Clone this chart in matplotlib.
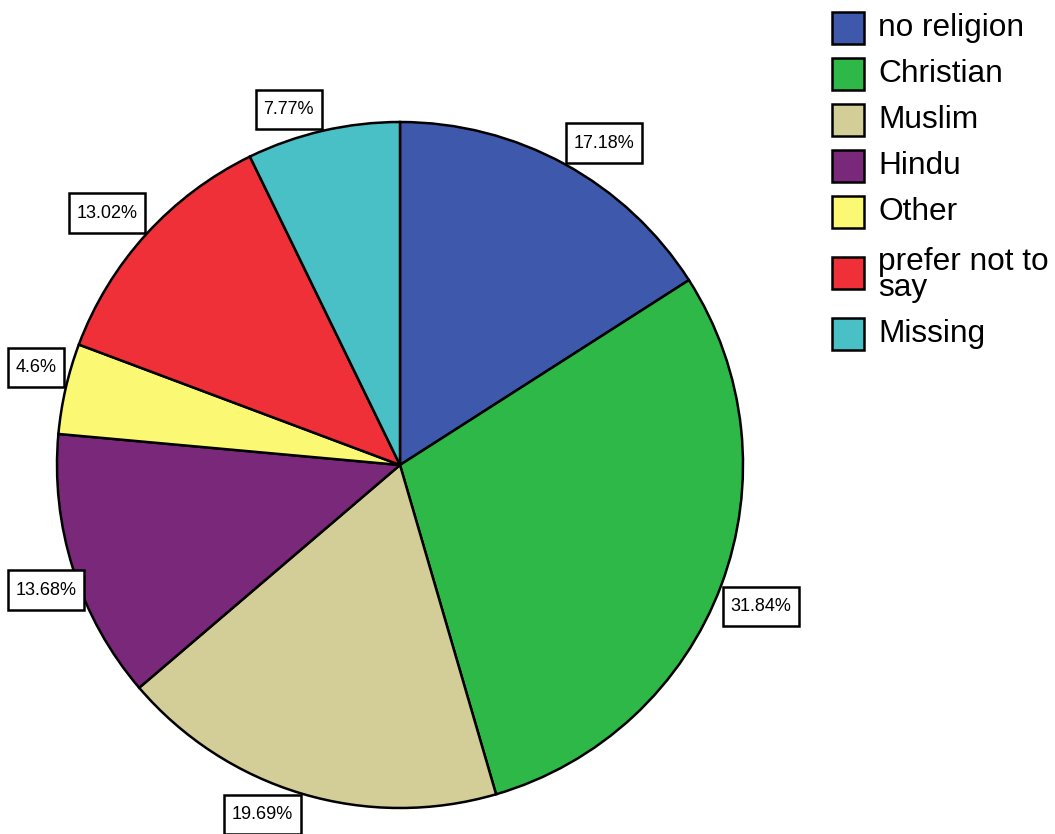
import numpy as np
import matplotlib
matplotlib.use("Agg")
import matplotlib.pyplot as plt
from matplotlib.path import Path
from matplotlib.patches import Rectangle

plt.rcParams['font.family'] = ['Liberation Sans', 'DejaVu Sans']

categories = ['no religion', 'Christian', 'Muslim', 'Hindu', 'Other',
              'prefer not to\nsay', 'Missing']
values = [17.18, 31.84, 19.69, 13.68, 4.6, 13.02, 7.77]
labels = ['17.18%', '31.84%', '19.69%', '13.68%', '4.6%', '13.02%', '7.77%']
colors = ['#3E58AC', '#2EB848', '#D3CE97', '#7A287A', '#FBF873', '#EF3038', '#48C0C5']

fig = plt.figure(figsize=(10.55, 8.34), dpi=100)
W, H = 1055, 834
cx, cy, r = 400, 465, 343
ax = fig.add_axes([(cx - r) / W, (H - cy - r) / H, 2 * r / W, 2 * r / H])

wedges, _ = ax.pie(values, colors=colors, startangle=90, counterclock=False,
                   wedgeprops=dict(edgecolor='black', linewidth=1.8))
ax.set_xlim(-1, 1)
ax.set_ylim(-1, 1)
ax.set_aspect('equal')

# box with a bit more room above/below than at the sides
PADX, PADY = 0.42, 0.62


def tall_box(x0, y0, width, height, mutation_size):
    px, py = PADX * mutation_size, PADY * mutation_size
    x0, y0, x1, y1 = x0 - px, y0 - py, x0 + width + px, y0 + height + py
    return Path([(x0, y0), (x1, y0), (x1, y1), (x0, y1), (x0, y0)], closed=True)


# value boxes: nearest corner of the box sits on the rim at the slice middle
fs = 13
anns = []
for w, lab in zip(wedges, labels):
    ang = np.deg2rad((w.theta1 + w.theta2) / 2)
    x, y = np.cos(ang), np.sin(ang)
    sx, sy = np.sign(x), np.sign(y)
    a = ax.annotate(lab, xy=(x, y),
                    xytext=(sx * (PADX * fs + 1), sy * (PADY * fs + 1)),
                    textcoords='offset points',
                    ha='left' if sx > 0 else 'right',
                    va='bottom' if sy > 0 else 'top',
                    fontsize=fs, annotation_clip=False,
                    bbox=dict(boxstyle=tall_box, facecolor='white',
                              edgecolor='black', linewidth=1.8))
    anns.append(a)

# keep boxes inside the picture
fig.canvas.draw()
for a in anns:
    ext = a.get_bbox_patch().get_window_extent()
    if ext.x0 < 8:
        ox, oy = a.xyann
        a.xyann = (ox + (8 - ext.x0) * 72 / fig.dpi, oy)

# legend on the right, rows in pixels from the top
lx, ly, step, extra, sq = 832, 5, 46, 30, 32
y_top = ly
for cat, col in zip(categories, colors):
    n = cat.count('\n') + 1
    h = step + extra * (n - 1)
    yc = y_top + h / 2
    fig.patches.append(Rectangle((lx / W, 1 - (yc + sq / 2) / H), sq / W, sq / H,
                                 transform=fig.transFigure, facecolor=col,
                                 edgecolor='black', linewidth=1.8))
    fig.text((lx + sq + 14) / W, 1 - (yc + 2 * (n - 1)) / H, cat, fontsize=22.8,
             ha='left', va='center', linespacing=0.8)
    y_top += h

fig.savefig('out.png', dpi=100)
